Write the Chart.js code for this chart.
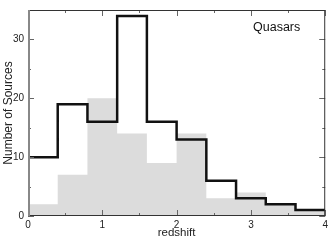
<!DOCTYPE html>
<html>
<head>
<meta charset="utf-8">
<script src="https://cdn.jsdelivr.net/npm/chart.js@4"></script>
<style>
  html, body { margin: 0; padding: 0; background: #fff; }
  #wrap { width: 331px; height: 240px; }
</style>
</head>
<body>
<div id="wrap"><canvas id="histChart" width="331" height="240"></canvas></div>
<script>
// bin edges in redshift
const binEdges = [0, 0.4, 0.8, 1.2, 1.6, 2.0, 2.4, 2.8, 3.2, 3.6, 4.0];
// black outline histogram
const quasarCounts = [10, 19, 16, 34, 16, 13, 6, 3, 2, 1];
// grey filled histogram
const greyCounts = [2, 7, 20, 14, 9, 14, 3, 4, 2, 1];

const xMajorTicks = [0, 1, 2, 3, 4];
const xMinorTicks = [0.5, 1.5, 2.5, 3.5];
const yMajorTicks = [0, 10, 20, 30];
const yMinorTicks = [5, 15, 25, 35];

// turn a list of counts into step points (last edge repeats last value)
var toSteps = (counts) => {
    const pts = counts.map((c, i) => ({ x: binEdges[i], y: c }));
    pts.push({ x: binEdges[binEdges.length - 1], y: counts[counts.length - 1] });
    return pts;
};

// inward ticks on all four sides plus the frame
const frameTicks = {
    id: 'frameTicks',
    afterDatasetsDraw(chart) {
        const { ctx, chartArea: a, scales: { x, y } } = chart;
        ctx.save();
        ctx.strokeStyle = '#666';
        ctx.lineWidth = 1;
        const tick = (x1, y1, x2, y2) => {
            ctx.beginPath();
            ctx.moveTo(x1, y1);
            ctx.lineTo(x2, y2);
            ctx.stroke();
        };
        xMajorTicks.forEach(v => {
            const px = Math.round(x.getPixelForValue(v)) + 0.5;
            tick(px, a.bottom, px, a.bottom - 6);
            tick(px, a.top, px, a.top + 6);
        });
        xMinorTicks.forEach(v => {
            const px = Math.round(x.getPixelForValue(v)) + 0.5;
            tick(px, a.bottom, px, a.bottom - 3);
            tick(px, a.top, px, a.top + 3);
        });
        yMajorTicks.forEach(v => {
            const py = Math.round(y.getPixelForValue(v)) + 0.5;
            tick(a.left, py, a.left + 6, py);
            tick(a.right, py, a.right - 6, py);
        });
        yMinorTicks.forEach(v => {
            const py = Math.round(y.getPixelForValue(v)) + 0.5;
            tick(a.left, py, a.left + 3, py);
            tick(a.right, py, a.right - 3, py);
        });
        // frame
        ctx.strokeStyle = '#333';
        ctx.strokeRect(a.left + 0.5, a.top + 0.5, a.right - a.left - 1, a.bottom - a.top - 1);
        ctx.strokeStyle = '#888';
        ctx.lineWidth = 2;
        tick(a.left + 1, a.top, a.left + 1, a.bottom);
        ctx.restore();
    }
};

const config = {
    type: 'line',
    data: {
        datasets: [
            {
                label: 'Quasars',
                data: toSteps(quasarCounts),
                stepped: 'before',
                borderColor: '#111',
                borderWidth: 2.5,
                pointRadius: 0,
                fill: false,
                order: 0
            },
            {
                label: 'grey',
                data: toSteps(greyCounts),
                stepped: 'before',
                borderWidth: 0,
                borderColor: 'rgba(0,0,0,0)',
                backgroundColor: '#dcdcdc',
                pointRadius: 0,
                fill: 'origin',
                order: 1
            }
        ]
    },
    options: {
        responsive: false,
        animation: false,
        layout: { padding: { top: 5, right: 1, left: 1, bottom: 0 } },
        plugins: {
            legend: { display: false },
            tooltip: { enabled: false }
        },
        scales: {
            x: {
                type: 'linear',
                min: 0,
                max: 4,
                afterFit(scale) { scale.height = 24; },
                grid: { display: false, drawTicks: false },
                border: { display: false },
                ticks: {
                    stepSize: 1,
                    padding: 3,
                    color: '#222',
                    font: { family: 'Liberation Sans', size: 10 }
                },
                title: {
                    display: true,
                    text: 'redshift',
                    color: '#222',
                    padding: 0,
                    font: { family: 'Liberation Sans', size: 11.5 }
                }
            },
            y: {
                type: 'linear',
                min: 0,
                max: 35,
                afterFit(scale) { scale.width = 27; },
                grid: { display: false, drawTicks: false },
                border: { display: false },
                ticks: {
                    stepSize: 10,
                    padding: 4,
                    color: '#222',
                    font: { family: 'Liberation Sans', size: 10 },
                    callback: (v) => yMajorTicks.includes(v) ? v : ''
                },
                title: {
                    display: true,
                    text: 'Number of Sources',
                    color: '#222',
                    padding: 0,
                    font: { family: 'Liberation Sans', size: 12 }
                }
            }
        }
    },
    plugins: [frameTicks, {
        id: 'label',
        afterDraw(chart) {
            const ctx = chart.ctx;
            ctx.save();
            ctx.fillStyle = '#111';
            ctx.font = '12.5px "Liberation Sans"';
            ctx.textAlign = 'left';
            ctx.textBaseline = 'middle';
            ctx.fillText('Quasars', 253, 28);
            ctx.restore();
        }
    }]
};

new Chart(document.getElementById('histChart'), config);
</script>
</body>
</html>
